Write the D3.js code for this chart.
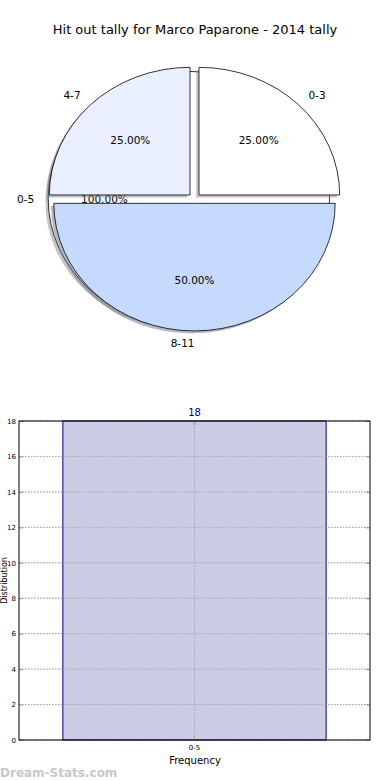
<!DOCTYPE html>
<html>
<head>
<meta charset="utf-8">
<script src="https://cdn.jsdelivr.net/npm/d3@7"></script>
<style>
	body { margin: 0; background: #fff; }
	svg { display: block; font-family: "DejaVu Sans", sans-serif; }
</style>
</head>
<body>
<div id="chart"></div>
<script>
// pie data
const totalLabels = ['0-5'];
const totalValues = [18];
const totalExplode = [0.04];
const pieLabels = ['0-3', '4-7', '8-11'];
const pieValues = [1, 1, 2];
const pieExplode = [0.045, 0.045, 0.034];

// bar data
const barCategories = ['0-5'];
const barValues = [18];
const yTickValues = [0, 2, 4, 6, 8, 10, 12, 14, 16, 18];

const W = 390, H = 780;
const svg = d3.select('#chart').append('svg')
	.attr('width', W)
	.attr('height', H);

svg.append('text')
	.attr('x', 195)
	.attr('y', 34)
	.attr('text-anchor', 'middle')
	.attr('font-size', 13)
	.text('Hit out tally for Marco Paparone - 2014 tally');

// ---- pie ----
const cx = 194.5, cy = 199, rx = 140.7, ry = 127.6;
const pieColor = d3.scaleOrdinal().domain(pieLabels).range(['#ffffff', '#eaf0ff', '#c6d9ff']);

// matplotlib style: start at 3 o'clock, counterclockwise
const pie = d3.pie().sort(null).startAngle(Math.PI / 2).endAngle(Math.PI / 2 - 2 * Math.PI);
const arc = d3.arc().innerRadius(0).outerRadius(1);

function drawPie(labels, values, explode, colorOf) {
	const arcs = pie(values);
	const total = d3.sum(values);
	const g = svg.append('g');
	arcs.forEach((a, i) => {
		const m = (a.startAngle + a.endAngle) / 2;
		const ox = cx + explode[i] * Math.sin(m) * rx;
		const oy = cy - explode[i] * Math.cos(m) * ry;
		// shadow
		g.append('path')
			.attr('d', arc(a))
			.attr('transform', 'translate(' + (ox - 0.02 * rx) + ',' + (oy + 0.02 * ry) + ') scale(' + rx + ',' + ry + ')')
			.attr('fill', d3.rgb(colorOf(i)).darker(1.7))
			.attr('fill-opacity', 0.5);
		a.ox = ox; a.oy = oy; a.mid = m;
	});
	arcs.forEach((a, i) => {
		g.append('path')
			.attr('d', arc(a))
			.attr('transform', 'translate(' + a.ox + ',' + a.oy + ') scale(' + rx + ',' + ry + ')')
			.attr('fill', colorOf(i))
			.attr('stroke', '#000')
			.attr('stroke-width', 0.8)
			.attr('vector-effect', 'non-scaling-stroke');
	});
	arcs.forEach((a, i) => {
		const sx = Math.sin(a.mid), sy = -Math.cos(a.mid);
		const lx = a.ox + 1.1 * sx * rx, ly = a.oy + 1.1 * sy * ry;
		g.append('text')
			.attr('x', lx)
			.attr('y', ly)
			.attr('dy', '0.35em')
			.attr('font-size', 10.5)
			.attr('text-anchor', sx > 1e-6 ? 'start' : 'end')
			.text(labels[i]);
		g.append('text')
			.attr('x', a.ox + 0.6 * sx * rx)
			.attr('y', a.oy + 0.6 * sy * ry)
			.attr('dy', '0.35em')
			.attr('font-size', 10.5)
			.attr('text-anchor', 'middle')
			.text(d3.format('.2f')(a.value / total * 100) + '%');
	});
}

drawPie(totalLabels, totalValues, totalExplode, () => '#ffffff');
drawPie(pieLabels, pieValues, pieExplode, (i) => pieColor(pieLabels[i]));

// ---- bar ----
const m = { left: 19, right: 20, top: 421, bottom: 40 };
const x = d3.scaleBand().domain(barCategories).range([m.left, W - m.right]).paddingInner(0.25).paddingOuter(0.125);
const y = d3.scaleLinear().domain([0, 18]).range([H - m.bottom, m.top]);

const grid = svg.append('g').attr('stroke', '#bbb').attr('stroke-dasharray', '1.5,1.5');
yTickValues.forEach((t) => {
	grid.append('line')
		.attr('x1', m.left).attr('x2', W - m.right)
		.attr('y1', y(t)).attr('y2', y(t));
});

svg.append('g').selectAll('rect')
	.data(barValues)
	.enter().append('rect')
	.attr('x', (d, i) => x(barCategories[i]))
	.attr('width', x.bandwidth())
	.attr('y', (d) => y(d))
	.attr('height', (d) => y(0) - y(d))
	.attr('fill', '#ccccE5')
	.attr('stroke', '#000080')
	.attr('stroke-width', 1);

// grid on top of bar (matplotlib draws grid above)
const grid2 = svg.append('g').attr('stroke', '#999').attr('stroke-dasharray', '1.5,1.5').attr('stroke-opacity', 0.7);
yTickValues.forEach((t) => {
	grid2.append('line')
		.attr('x1', m.left).attr('x2', W - m.right)
		.attr('y1', y(t)).attr('y2', y(t));
});
barCategories.forEach((c) => {
	const cxx = x(c) + x.bandwidth() / 2;
	grid2.append('line')
		.attr('x1', cxx).attr('x2', cxx)
		.attr('y1', m.top).attr('y2', H - m.bottom);
});

svg.append('g').selectAll('text')
	.data(barValues)
	.enter().append('text')
	.attr('x', (d, i) => x(barCategories[i]) + x.bandwidth() / 2)
	.attr('y', (d) => y(d) - 5)
	.attr('text-anchor', 'middle')
	.attr('font-size', 10)
	.attr('fill', '#000080')
	.text((d) => d);

// axes
const yAxis = svg.append('g')
	.attr('transform', 'translate(' + m.left + ',0)')
	.call(d3.axisLeft(y).tickValues(yTickValues).tickSize(0).tickPadding(3));
yAxis.select('.domain').remove();
yAxis.selectAll('text').attr('font-size', 7).attr('font-family', '"DejaVu Sans", sans-serif');

const yAxisR = svg.append('g')
	.attr('transform', 'translate(' + (W - m.right) + ',0)')
	.call(d3.axisRight(y).tickValues(yTickValues).tickSize(-4).tickFormat(''));
yAxisR.select('.domain').remove();
yAxisR.selectAll('line').attr('stroke', '#999');

const yAxisL = svg.append('g')
	.attr('transform', 'translate(' + m.left + ',0)')
	.call(d3.axisLeft(y).tickValues(yTickValues).tickSize(-4).tickFormat(''));
yAxisL.select('.domain').remove();
yAxisL.selectAll('line').attr('stroke', '#999');

const xAxis = svg.append('g')
	.attr('transform', 'translate(0,' + (H - m.bottom) + ')')
	.call(d3.axisBottom(x).tickSize(-4).tickPadding(5));
xAxis.select('.domain').remove();
xAxis.selectAll('line').attr('stroke', '#999');
xAxis.selectAll('text').attr('font-size', 7).attr('font-family', '"DejaVu Sans", sans-serif');

const xAxisT = svg.append('g')
	.attr('transform', 'translate(0,' + m.top + ')')
	.call(d3.axisTop(x).tickSize(-4).tickFormat(''));
xAxisT.select('.domain').remove();
xAxisT.selectAll('line').attr('stroke', '#999').attr('stroke-width', 1.5);

svg.append('rect')
	.attr('x', m.left).attr('y', m.top)
	.attr('width', W - m.left - m.right).attr('height', H - m.top - m.bottom)
	.attr('fill', 'none')
	.attr('stroke', '#000')
	.attr('stroke-width', 1);

svg.append('text')
	.attr('x', 195)
	.attr('y', 764)
	.attr('text-anchor', 'middle')
	.attr('font-size', 10)
	.text('Frequency');

// y label sits at the left edge, as in the reference
svg.append('text')
	.attr('transform', 'translate(7,' + ((m.top + H - m.bottom) / 2) + ') rotate(-90)')
	.attr('text-anchor', 'middle')
	.attr('font-size', 8)
	.text('Distribution');

svg.append('text')
	.attr('x', 0)
	.attr('y', 777)
	.attr('font-size', 12)
	.attr('font-weight', 'bold')
	.attr('fill', '#c8c8c8')
	.text('Dream-Stats.com');
</script>
</body>
</html>
